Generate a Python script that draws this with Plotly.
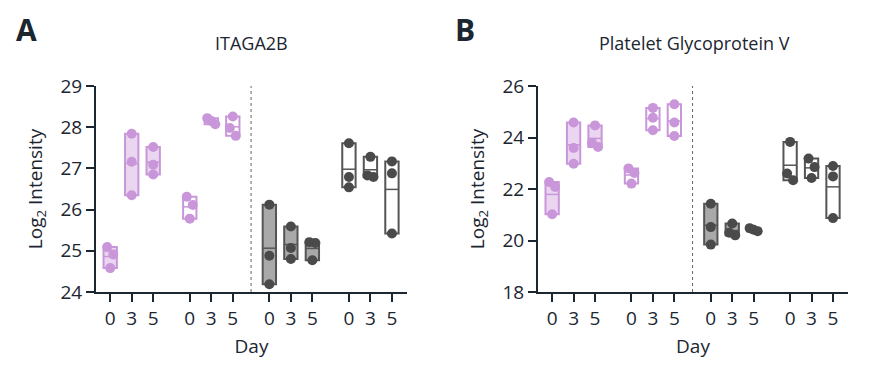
import plotly.graph_objects as go

# ---------------- data ----------------
days = ["0", "3", "5"]

# Panel A: ITAGA2B (three replicates per day)
itga_purple_filled = [[25.09, 24.91, 24.58], [27.84, 27.16, 26.35], [27.52, 27.09, 26.85]]
itga_purple_open = [[26.31, 26.11, 25.78], [28.22, 28.15, 28.07], [28.26, 27.98, 27.79]]
itga_grey_filled = [[26.12, 24.88, 24.19], [25.59, 25.07, 24.80], [25.21, 25.19, 24.77]]
itga_grey_open = [[27.61, 26.79, 26.54], [27.28, 26.83, 26.79], [27.17, 26.88, 25.42]]

# Panel B: Platelet Glycoprotein V
gp5_purple_filled = [[22.27, 22.08, 21.02], [24.58, 23.59, 22.98], [24.47, 23.79, 23.63]]
gp5_purple_open = [[22.80, 22.62, 22.21], [25.15, 24.77, 24.28], [25.29, 24.58, 24.06]]
gp5_grey_filled = [[21.43, 20.52, 19.84], [20.66, 20.30, 20.20], [20.48, 20.42, 20.36]]
gp5_grey_open = [[23.83, 22.60, 22.34], [23.18, 22.85, 22.43], [22.89, 22.49, 20.87]]

# ---------------- styles ----------------
PURPLE = "#c996d9"
PURPLE_FILL = "#ead6f0"
GREY_PT = "#4a4a4a"
GREY_LINE = "#555555"
GREY_FILL = "#a9a9a9"
AX = "#1b2631"
FONT = "Open Sans"

styles = [
    dict(pt=PURPLE, line=PURPLE, fill=PURPLE_FILL),
    dict(pt=PURPLE, line=PURPLE, fill="white"),
    dict(pt=GREY_PT, line=GREY_LINE, fill=GREY_FILL),
    dict(pt=GREY_PT, line=GREY_LINE, fill="white"),
]

GROUP_STEP = 3.7
BOX_W = 0.62
PX_PER_X = 21.5


def spread(vals, px_per_unit):
    """Horizontal offsets for overlapping points (in x units)."""
    order = sorted(range(len(vals)), key=lambda i: -vals[i])
    offs = [0.0] * len(vals)
    clusters = [[order[0]]]
    for i in order[1:]:
        if (vals[clusters[-1][-1]] - vals[i]) * px_per_unit < 9:
            clusters[-1].append(i)
        else:
            clusters.append([i])
    for c in clusters:
        n = len(c)
        if n == 2:
            pat = [-3, 3]
        elif n == 3:
            pat = [-4, 0, 4]
        else:
            pat = [0]
        for k, i in enumerate(c):
            offs[i] = pat[k] / PX_PER_X
    return offs


fig = go.Figure()


def add_panel(groups, xa, ya, px_per_unit):
    xr = "x" if xa == "xaxis" else "x2"
    yr = "y" if ya == "yaxis" else "y2"
    for g, (grp, st) in enumerate(zip(groups, styles)):
        xs = [g * GROUP_STEP + d for d in range(len(days))]
        lo = [min(v) for v in grp]
        hi = [max(v) for v in grp]
        fig.add_trace(go.Bar(
            x=xs, y=[h - l for h, l in zip(hi, lo)], base=lo, width=BOX_W,
            marker=dict(color=st["fill"], line=dict(color=st["line"], width=2)),
            xaxis=xr, yaxis=yr, showlegend=False, hoverinfo="skip"))
        mx, my = [], []
        for x, v in zip(xs, grp):
            m = sum(v) / len(v)
            mx += [x - BOX_W / 2, x + BOX_W / 2, None]
            my += [m, m, None]
        fig.add_trace(go.Scatter(
            x=mx, y=my, mode="lines", line=dict(color=st["line"], width=1.5),
            xaxis=xr, yaxis=yr, showlegend=False, hoverinfo="skip"))
        px, py = [], []
        for x, v in zip(xs, grp):
            for o, val in zip(spread(v, px_per_unit), v):
                px.append(x + o)
                py.append(val)
        fig.add_trace(go.Scatter(
            x=px, y=py, mode="markers",
            marker=dict(color=st["pt"], size=10, line=dict(width=0)),
            xaxis=xr, yaxis=yr, showlegend=False))


add_panel([itga_purple_filled, itga_purple_open, itga_grey_filled, itga_grey_open],
          "xaxis", "yaxis", 41.2)
add_panel([gp5_purple_filled, gp5_purple_open, gp5_grey_filled, gp5_grey_open],
          "xaxis2", "yaxis2", 25.75)

tickvals = [g * GROUP_STEP + d for g in range(4) for d in range(len(days))]
ticktext = days * 4

xcommon = dict(
    range=[-0.66, 13.8], tickvals=tickvals, ticktext=ticktext,
    showline=True, linecolor=AX, linewidth=2, ticks="outside", ticklen=8,
    tickwidth=2, tickcolor=AX, showgrid=False, zeroline=False,
    tickfont=dict(family=FONT, size=19, color=AX),
    title=dict(text="Day", font=dict(family=FONT, size=19, color=AX), standoff=10),
)
ycommon = dict(
    showline=True, linecolor=AX, linewidth=2, ticks="outside", ticklen=8,
    tickwidth=2, tickcolor=AX, showgrid=False, zeroline=False,
    tickfont=dict(family=FONT, size=19, color=AX),
    title=dict(text="Log<sub>2</sub> Intensity", font=dict(family=FONT, size=19, color=AX),
               standoff=13),
)

fig.update_layout(
    width=869, height=371,
    margin=dict(l=0, r=0, t=78, b=87),
    paper_bgcolor="white", plot_bgcolor="white",
    barmode="overlay",
    xaxis=dict(domain=[88 / 869, 399 / 869], anchor="y", **xcommon),
    xaxis2=dict(domain=[530 / 869, 840 / 869], anchor="y2", **xcommon),
    yaxis=dict(domain=[0, 1], anchor="x", range=[24, 29], tickvals=[24, 25, 26, 27, 28, 29], **ycommon),
    yaxis2=dict(domain=[0, 1], anchor="x2", range=[18, 26], tickvals=[18, 20, 22, 24, 26], **ycommon),
    shapes=[
        dict(type="line", xref="x", yref="y domain", x0=6.55, x1=6.55, y0=0, y1=1,
             line=dict(color="#666666", width=1, dash="dot")),
        dict(type="line", xref="x2", yref="y2 domain", x0=6.55, x1=6.55, y0=0, y1=1,
             line=dict(color="#666666", width=1, dash="dot")),
    ],
    annotations=[
        dict(text="<b>A</b>", xref="paper", yref="paper", x=18 / 869, y=(284 - 22) / 206,
             xanchor="center", yanchor="middle", showarrow=False, borderpad=0,
             font=dict(family=FONT, size=30, color=AX)),
        dict(text="<b>B</b>", xref="paper", yref="paper", x=457 / 869, y=(284 - 22) / 206,
             xanchor="center", yanchor="middle", showarrow=False, borderpad=0,
             font=dict(family=FONT, size=30, color=AX)),
        dict(text="ITAGA2B", xref="paper", yref="paper", x=243.5 / 869, y=(284 - 35) / 206,
             xanchor="center", yanchor="middle", showarrow=False,
             font=dict(family=FONT, size=18, color=AX)),
        dict(text="Platelet Glycoprotein V", xref="paper", yref="paper", x=686 / 869, y=(284 - 35) / 206,
             xanchor="center", yanchor="middle", showarrow=False,
             font=dict(family=FONT, size=18, color=AX)),
    ],
)

fig.write_html("out.html")
